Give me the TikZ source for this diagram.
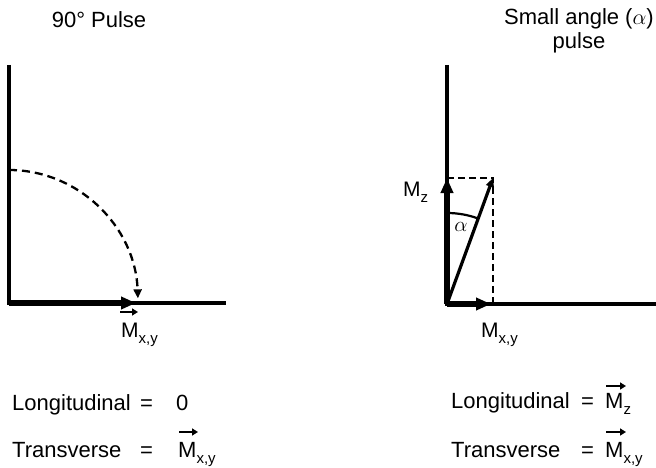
\documentclass[tikz,border=0pt]{standalone}
\usepackage{fix-cm}
\usepackage{fontspec}
\setmainfont{Liberation Sans}
\usetikzlibrary{arrows.meta,calc}
\newcommand{\subt}[1]{\raisebox{-0.3em}{\fontsize{15}{15}\selectfont #1}}
\begin{document}
\begin{tikzpicture}[x=1pt,y=-1pt,
  axis/.style={line width=3.3pt},
  thickvec/.style={line width=6pt,-{Triangle[length=15pt,width=12pt]}},
  diagvec/.style={line width=3.2pt,-{Triangle[length=9pt,width=8pt]}},
  dashedarc/.style={line width=2.3pt,dash pattern=on 8pt off 5pt,-{Triangle[length=9pt,width=8pt]}},
  dashedline/.style={line width=2.5pt,dash pattern=on 7pt off 4pt},
  anglearc/.style={line width=2.2pt},
  overvec/.style={line width=2.4pt,-{Triangle[length=6pt,width=7pt]}},
  lbl/.style={font=\fontsize{22}{24}\selectfont, inner sep=0pt},
  mlbl/.style={font=\fontsize{21}{24}\selectfont, inner sep=0pt, anchor=base west},
]
\useasboundingbox (0,0) rectangle (656,468);
% left diagram
\coordinate (O1) at (9,303);
\coordinate (Y1) at (9,65);
\coordinate (X1) at (226,303);
\coordinate (T1) at (136,303);
\coordinate (A1) at (9,170);
\draw[axis] (Y1) -- (O1) -- (X1);
\draw[thickvec] (O1) -- (T1);
\draw[dashedarc] (A1) arc[start angle=-90,end angle=-2,x radius=129,y radius=133];
\node[mlbl] (mxl) at (121,337) {M\subt{x,y}};
\draw[overvec] ($(mxl.base west)+(-1,-25)$) -- ++(18,0);
% right diagram
\coordinate (O2) at (447,304);
\coordinate (Y2) at (447,65);
\coordinate (X2) at (656,304);
\coordinate (Z2) at (447,178);
\coordinate (P2) at (493,178);
\coordinate (B2) at (493,304);
\coordinate (H2) at (491,304);
\coordinate (R2) at (447,213);
\draw[axis] (Y2) -- (O2) -- (X2);
\draw[dashedline] (Z2) -- (P2) -- (B2);
\draw[thickvec] (O2) -- (Z2);
\draw[thickvec] (O2) -- (H2);
\draw[diagvec] (O2) -- (P2);
\draw[anglearc] (R2) arc[start angle=-90,end angle=-70,radius=91];
\node[mlbl] (mz) at (403,196) {M\subt{z}};
\node[mlbl] (mxr) at (481,337) {M\subt{x,y}};
\node[inner sep=0pt,font=\fontsize{21}{24}\selectfont] (al) at (461,227) {$\alpha$};
% titles
\node[lbl] (t1) at (99,20) {90° Pulse};
\node[lbl,align=center] (t2) at (579,31) {Small angle ($\alpha$)\\pulse};
% bottom texts
\node[lbl,anchor=base west] (lon1) at (12,410) {Longitudinal};
\node[lbl,anchor=base west] (eq1) at (140,410) {=};
\node[lbl,anchor=base west] (zero) at (176,410) {0};
\node[lbl,anchor=base west] (tr1) at (12,457) {Transverse};
\node[lbl,anchor=base west] (eq2) at (140,457) {=};
\node[lbl,anchor=base west] (mx1) at (178,457) {M\subt{x,y}};
\draw[overvec] ($(mx1.base west)+(1,-25)$) -- ++(19,0);
\node[lbl,anchor=base west] (lon2) at (451,408) {Longitudinal};
\node[lbl,anchor=base west] (eq3) at (581,408) {=};
\node[lbl,anchor=base west] (mz2) at (605,408) {M\subt{z}};
\draw[overvec] ($(mz2.base west)+(1,-22)$) -- ++(20,0);
\node[lbl,anchor=base west] (tr2) at (451,457) {Transverse};
\node[lbl,anchor=base west] (eq4) at (581,457) {=};
\node[lbl,anchor=base west] (mx2) at (605,457) {M\subt{x,y}};
\draw[overvec] ($(mx2.base west)+(1,-25)$) -- ++(20,0);
\end{tikzpicture}
\end{document}
